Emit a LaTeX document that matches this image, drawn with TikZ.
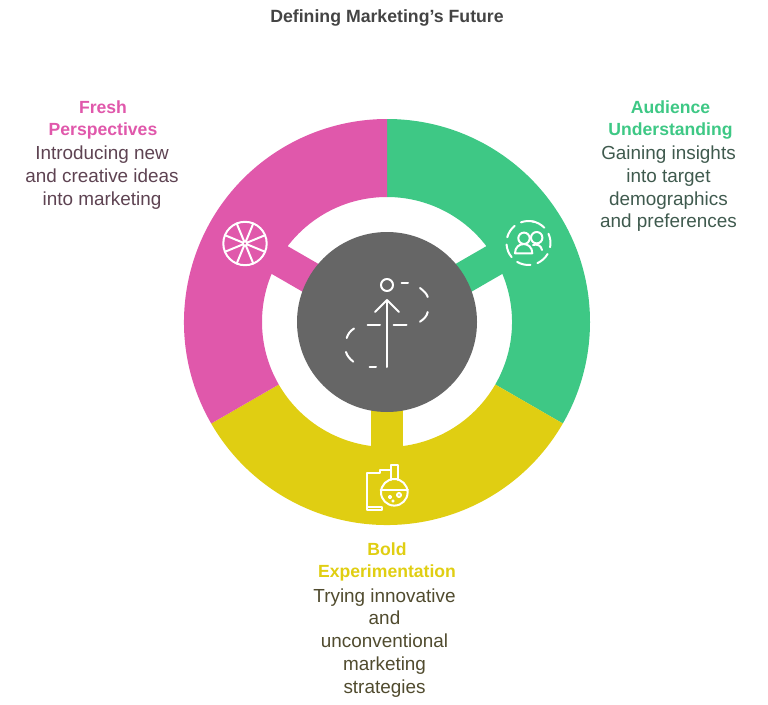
\documentclass[tikz,border=0pt]{standalone}
\usepackage{fontspec}
\setmainfont{Liberation Sans}
\definecolor{freshpink}{HTML}{E058AB}
\definecolor{audgreen}{HTML}{3EC885}
\definecolor{boldyellow}{HTML}{E0CE12}
\definecolor{hubgray}{HTML}{666666}
\definecolor{titlegray}{HTML}{444444}
\definecolor{freshtext}{HTML}{5E4352}
\definecolor{audtext}{HTML}{3F5A4E}
\definecolor{boldtext}{HTML}{504B2E}
\tikzset{
    head/.style={font=\fontsize{17.6}{22.7}\selectfont\bfseries, align=center},
    body/.style={font=\fontsize{18.9}{22.7}\selectfont, align=center},
    icon/.style={draw=white, line width=2pt, line cap=round, line join=round}
}
\begin{document}
\begin{tikzpicture}
  [
    x = 1pt,
    y = -1pt,
  ]
  \useasboundingbox (0,0) rectangle (768,704);
  \coordinate (hub) at (387,322);
  % ring and tabs
  \foreach \col/\st/\en/\md in {audgreen/-90/30/-30, boldyellow/30/150/90, freshpink/150/270/210}
  {
    \fill [\col] ([shift={(\st:203)}]hub) arc [start angle=\st, end angle=\en, radius=203]
      -- ([shift={(\en:125)}]hub) arc [start angle=\en, end angle=\st, radius=125] -- cycle;
    \draw [\col, line width=32pt] (hub) -- ([shift={(\md:130)}]hub);
  }
  \node [circle, fill=hubgray, minimum size=180pt, inner sep=0pt] (centre) at (hub) {};

  % centre icon
  \draw [icon] (387,285) circle (6);
  \draw [icon] (387,367) -- (387,300);
  \draw [icon] (375,312) -- (387,300) -- (399,312);
  \draw [icon] (367.5,324.7) -- (380,324.7);
  \draw [icon] (393.5,324.7) -- (406.5,324.7);
  \draw [icon] (401.5,283) -- (408,283);
  \draw [icon] (420,288) .. controls (424,291) and (427,294) .. (427.7,297);
  \draw [icon] (427.7,312) .. controls (427,316) and (424,319) .. (420,321.7);
  \draw [icon] (354,328.5) .. controls (350,331) and (348,334) .. (346.7,338);
  \draw [icon] (346,352) .. controls (347,356) and (350,359) .. (353.3,361.7);
  \draw [icon] (369.5,366.7) -- (376,366.7);

  % wheel icon
  \coordinate (wheel) at (245,243.5);
  \draw [icon] (wheel) circle (21.7);
  \draw [icon] (wheel) circle (2.2);
  \foreach \a in {22.5,67.5,...,360}
    \draw [icon] ([shift={(\a:2.2)}]wheel) -- ([shift={(\a:21.7)}]wheel);

  % people icon
  \coordinate (people) at (528.5,243);
  \foreach \a in {-80,-25,...,260}
    \draw [icon] ([shift={(\a:22)}]people) arc [start angle=\a, end angle=\a+36, radius=22];
  \draw [icon] (524,238.3) circle (5.7);
  \draw [icon] (536.7,237.7) circle (5.7);
  \draw [icon] (515,253.3) .. controls (515,241) and (532.3,241) .. (532.3,253.3) -- cycle;
  \draw [icon] (533,245) .. controls (537,244) and (541,245) .. (542,250);

  % flask icon
  \draw [icon] (394.3,492.3) circle (13.3);
  \draw [icon] (391,480) -- (391,465) -- (397.7,465) -- (397.7,480);
  \draw [icon] (380.5,490) -- (408,490);
  \draw [icon] (391,470) -- (380,470) -- (380,473) -- (366.7,473) -- (366.7,506.7);
  \draw [icon] (366.7,506.7) -- (382,506.7) -- (382,510) -- (366.7,510) -- cycle;
  \draw [icon] (390,497) circle (1.2);
  \draw [icon] (399,495) circle (2);
  \draw [icon] (393,501) circle (0.6);

  % labels
  \node [font=\fontsize{17.7}{20}\selectfont\bfseries, text=titlegray] (title) at (387,18) {Defining Marketing's Future};
  \node [head, text=freshpink] (freshhead) at (103,120) {Fresh\\Perspectives};
  \node [body, text=freshtext, anchor=north] (freshbody) at (102,142.5) {Introducing new\\and creative ideas\\into marketing};
  \node [head, text=audgreen] (audhead) at (670.5,120) {Audience\\Understanding};
  \node [body, text=audtext, anchor=north] (audbody) at (668.5,142.5) {Gaining insights\\into target\\demographics\\and preferences};
  \node [head, text=boldyellow] (boldhead) at (387,562) {Bold\\Experimentation};
  \node [body, text=boldtext, anchor=north] (boldbody) at (384.5,585) {Trying innovative\\and\\unconventional\\marketing\\strategies};
\end{tikzpicture}
\end{document}
